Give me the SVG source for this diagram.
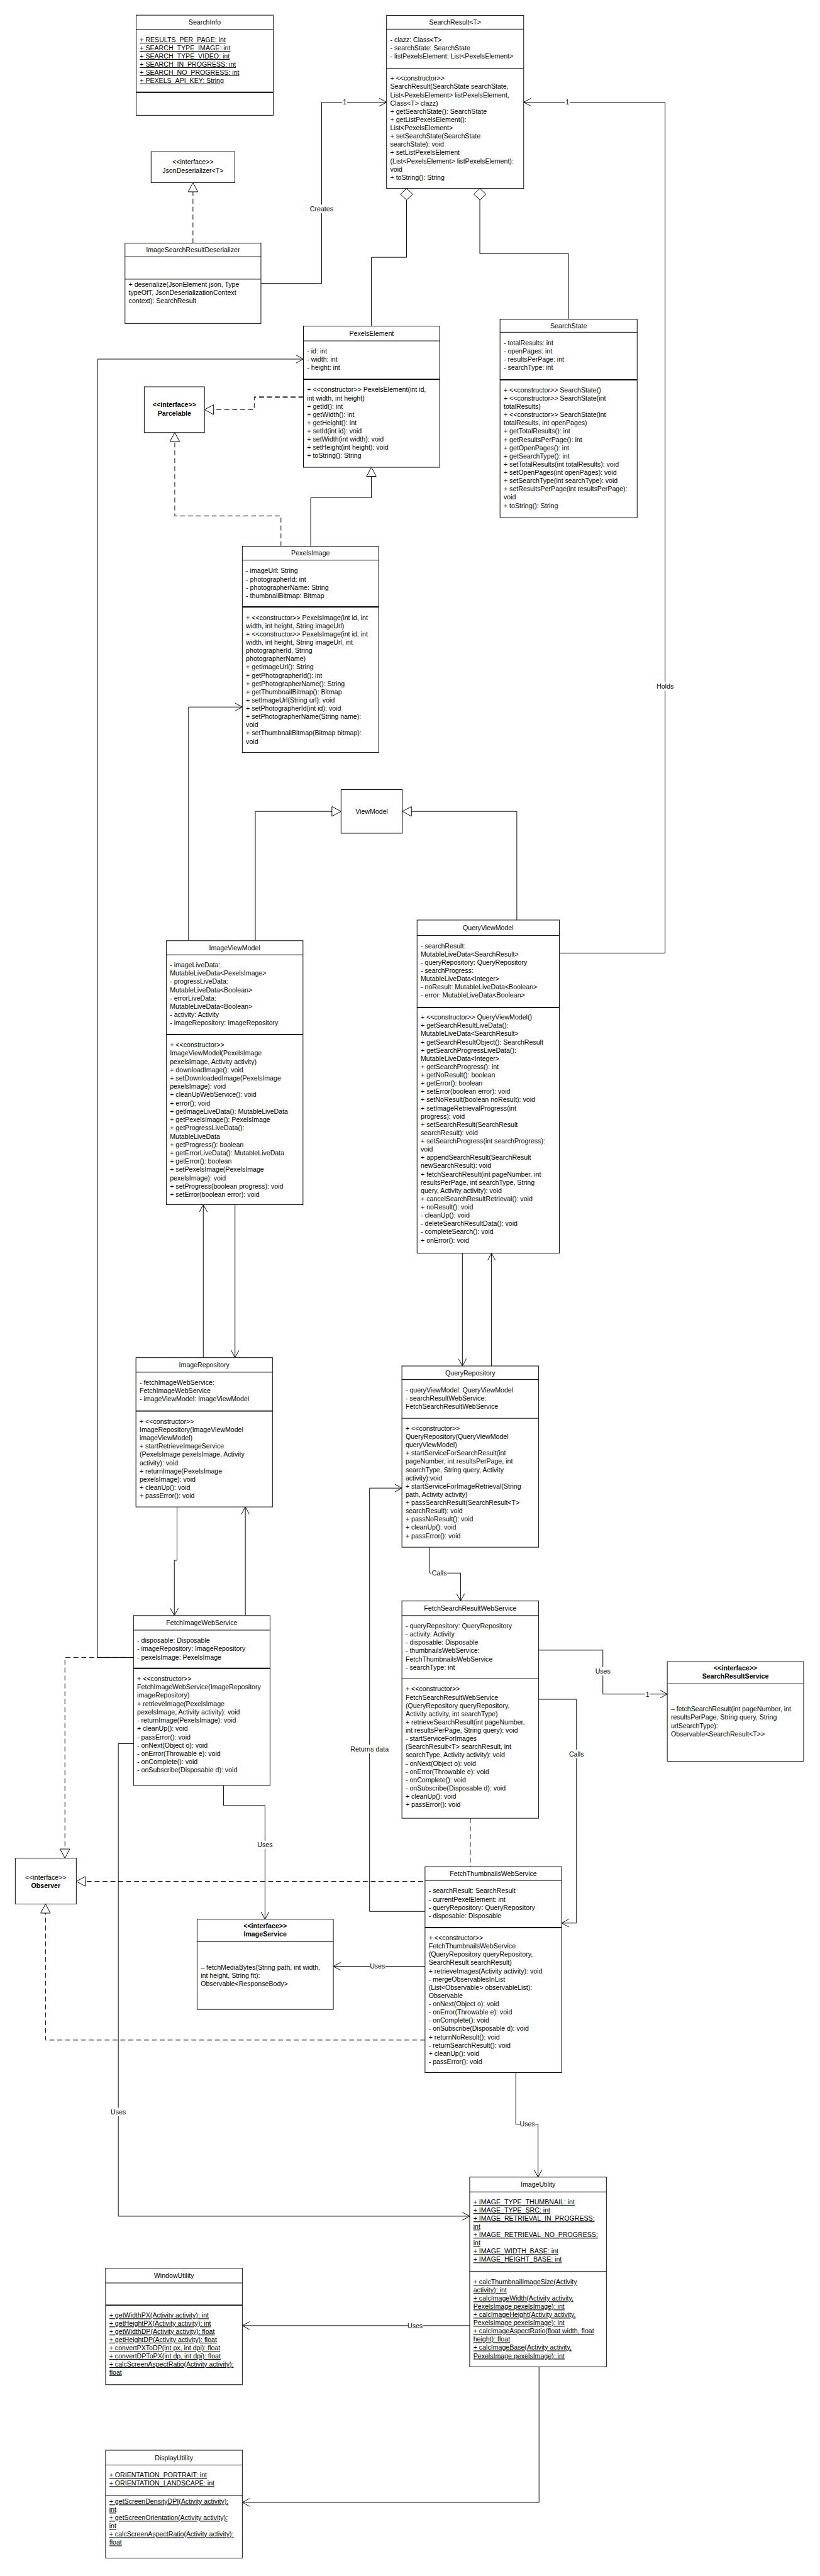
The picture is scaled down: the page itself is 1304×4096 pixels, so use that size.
<svg xmlns="http://www.w3.org/2000/svg" width="1304" height="4096" viewBox="0 0 1304 4096">
<style>
.b{fill:#fff;stroke:#000;stroke-width:1}
.d{stroke:#000;stroke-width:1}
.dk{stroke:#000;stroke-width:2}
.t{font-family:"Liberation Sans",Arial,Helvetica,sans-serif;font-size:11px;fill:#000}
.c{text-anchor:middle}
.u{text-decoration:underline}
.bo{font-weight:bold}
.e{fill:none;stroke:#000;stroke-width:1}
.dash{stroke-dasharray:8 5}
.lb{fill:#fff}
</style>
<defs>
<marker id="arr" markerUnits="userSpaceOnUse" markerWidth="14" markerHeight="16" refX="12" refY="7" orient="auto"><path d="M0,0.5 L12,7 L0,13.5" fill="none" stroke="#000" stroke-width="1" stroke-dasharray="none"/></marker>
<marker id="tri" markerUnits="userSpaceOnUse" markerWidth="18" markerHeight="18" refX="16" refY="9" orient="auto"><path d="M1,1 L16,9 L1,17 Z" fill="#fff" stroke="#000" stroke-width="1" stroke-dasharray="none"/></marker>
</defs>
<rect width="1304" height="4096" fill="#fff"/>
<g transform="scale(0.965)">
<g id="connectors">
<path class="e dash" d="M318,400.7 L318,301" marker-end="url(#tri)"/>
<path class="e" d="M430,467 L530,467 L530,168.4 L637,168.4" marker-end="url(#arr)"/>
<path class="e" d="M921.7,1570.4 L1096,1570.4 L1096,168.4 L863,168.4" marker-end="url(#arr)"/>
<path class="e" d="M670,329.5 L670,424 L612,424 L612,537.3"/>
<polygon class="b" points="670,310.5 680,320 670,329.5 660,320"/>
<path class="e" d="M790.7,329.5 L790.7,418 L937,418 L937,526"/>
<polygon class="b" points="790.7,310.5 800.7,320 790.7,329.5 780.7,320"/>
<path class="e dash" d="M500,654.3 L419,654.3 L419,675 L337,675" marker-end="url(#tri)"/>
<path class="e dash" style="stroke-width:2" d="M500,654.3 L419,654.3"/>
<path class="e" d="M512,900 L512,820 L612,820 L612,770" marker-end="url(#tri)"/>
<path class="e dash" d="M463,900 L463,850 L288,850 L288,712.7" marker-end="url(#tri)"/>
<path class="e" d="M420.7,1550 L420.7,1337 L562,1337" marker-end="url(#tri)"/>
<path class="e" d="M851.7,1516 L851.7,1337 L663,1337" marker-end="url(#tri)"/>
<path class="e" d="M310.7,1550 L310.7,1165 L399.3,1165" marker-end="url(#arr)"/>
<path class="e" d="M387.3,1985 L387.3,2237" marker-end="url(#arr)"/>
<path class="e" d="M335,2237 L335,1985" marker-end="url(#arr)"/>
<path class="e" d="M762,2065 L762,2250.8" marker-end="url(#arr)"/>
<path class="e" d="M810,2250.8 L810,2065" marker-end="url(#arr)"/>
<path class="e" d="M291.7,2483 L291.7,2571 L287.3,2571 L287.3,2662" marker-end="url(#arr)"/>
<path class="e" d="M404.3,2662 L404.3,2483" marker-end="url(#arr)"/>
<path class="e" d="M708.3,2549.4 L708.3,2592 L759,2592 L759,2638" marker-end="url(#arr)"/>
<path class="e" d="M887.7,2719 L993.5,2719 L993.5,2791.4 L1099.6,2791.4" marker-end="url(#arr)"/>
<path class="e" d="M887.7,2800 L950,2800 L950,3168.7 L925.5,3168.7" marker-end="url(#arr)"/>
<path class="e dash" d="M775,2996 L775,3100 L125.7,3100" marker-end="url(#tri)"/>
<path class="e dash" d="M700.4,3361.5 L75,3361.5 L75,3137.3" marker-end="url(#tri)"/>
<path class="e" d="M700.4,3149.5 L609,3149.5 L609,2452 L662.3,2452" marker-end="url(#arr)"/>
<path class="e" d="M700.4,3240 L549.3,3240" marker-end="url(#arr)"/>
<path class="e" d="M368.3,2942 L368.3,2975 L436.7,2975 L436.7,3162.3" marker-end="url(#arr)"/>
<path class="e dash" d="M220,2731 L107,2731 L107,3061.7" marker-end="url(#tri)"/>
<path class="e" d="M220,2731 L161,2731 L161,591.7 L500,591.7" marker-end="url(#arr)"/>
<path class="e" d="M220,2873 L195,2873 L195,3651.7 L774,3651.7" marker-end="url(#arr)"/>
<path class="e" d="M850,3415 L850,3500 L886.7,3500 L886.7,3587.3" marker-end="url(#arr)"/>
<path class="e" d="M774,3832 L399.3,3832" marker-end="url(#arr)"/>
<path class="e" d="M888.3,3900 L888.3,4123.3 L399.3,4123.3" marker-end="url(#arr)"/>
<g id="edge-labels">
<rect class="lb" x="511" y="337" width="38" height="14"/><text class="t c" x="530" y="348">Creates</text>
<rect class="lb" x="564" y="161" width="8" height="14"/><text class="t c" x="568" y="172.4">1</text>
<rect class="lb" x="1081" y="1124" width="30" height="14"/><text class="t c" x="1096" y="1135">Holds</text>
<rect class="lb" x="931" y="161" width="8" height="14"/><text class="t c" x="935" y="172.4">1</text>
<rect class="lb" x="711" y="2585" width="26" height="14"/><text class="t c" x="724" y="2596">Calls</text>
<rect class="lb" x="981" y="2747" width="25" height="14"/><text class="t c" x="993.5" y="2758">Uses</text>
<rect class="lb" x="1063" y="2784" width="8" height="14"/><text class="t c" x="1067" y="2795.4">1</text>
<rect class="lb" x="937" y="2883" width="26" height="14"/><text class="t c" x="950" y="2894">Calls</text>
<rect class="lb" x="577" y="2875" width="64" height="14"/><text class="t c" x="609" y="2886">Returns data</text>
<rect class="lb" x="610" y="3233" width="25" height="14"/><text class="t c" x="622" y="3244">Uses</text>
<rect class="lb" x="424" y="3033" width="25" height="14"/><text class="t c" x="436.7" y="3044">Uses</text>
<rect class="lb" x="183" y="3473" width="25" height="14"/><text class="t c" x="195" y="3484">Uses</text>
<rect class="lb" x="857" y="3493" width="25" height="14"/><text class="t c" x="869" y="3504">Uses</text>
<rect class="lb" x="672" y="3825" width="25" height="14"/><text class="t c" x="684" y="3836">Uses</text>
</g>
</g>

<g id="n-searchinfo">
<rect class="b" x="224.3" y="25" width="226" height="165"/>
<line class="d" x1="224.3" y1="48.5" x2="450.3" y2="48.5"/>
<line class="dk" x1="224.3" y1="152" x2="450.3" y2="152"/>
<text class="t c" x="337.3" y="40.8">SearchInfo</text>
<text class="t u" x="230.3" y="69.5"><tspan x="230.3">+ RESULTS_PER_PAGE: int</tspan><tspan x="230.3" dy="13.4">+ SEARCH_TYPE_IMAGE: int</tspan><tspan x="230.3" dy="13.4">+ SEARCH_TYPE_VIDEO: int</tspan><tspan x="230.3" dy="13.4">+ SEARCH_IN_PROGRESS: int</tspan><tspan x="230.3" dy="13.4">+ SEARCH_NO_PROGRESS: int</tspan><tspan x="230.3" dy="13.4">+ PEXELS_API_KEY: String</tspan></text>
</g>

<g id="n-searchresult">
<rect class="b" x="637" y="25.5" width="226" height="285"/>
<line class="d" x1="637" y1="48" x2="863" y2="48"/>
<line class="d" x1="637" y1="112.4" x2="863" y2="112.4"/>
<text class="t c" x="750" y="40.8">SearchResult&lt;T&gt;</text>
<text class="t" x="643" y="69"><tspan x="643">- clazz: Class&lt;T&gt;</tspan><tspan x="643" dy="13.6">- searchState: SearchState</tspan><tspan x="643" dy="13.6">- listPexelsElement: List&lt;PexelsElement&gt;</tspan></text>
<text class="t" x="643" y="133"><tspan x="643">+ &lt;&lt;constructor&gt;&gt;</tspan><tspan x="643" dy="13.6">SearchResult(SearchState searchState,</tspan><tspan x="643" dy="13.6">List&lt;PexelsElement&gt; listPexelsElement,</tspan><tspan x="643" dy="13.6">Class&lt;T&gt; clazz)</tspan><tspan x="643" dy="13.6">+ getSearchState(): SearchState</tspan><tspan x="643" dy="13.6">+ getListPexelsElement():</tspan><tspan x="643" dy="13.6">List&lt;PexelsElement&gt;</tspan><tspan x="643" dy="13.6">+ setSearchState(SearchState</tspan><tspan x="643" dy="13.6">searchState): void</tspan><tspan x="643" dy="13.6">+ setListPexelsElement</tspan><tspan x="643" dy="13.6">(List&lt;PexelsElement&gt; listPexelsElement):</tspan><tspan x="643" dy="13.6">void</tspan><tspan x="643" dy="13.6">+ toString(): String</tspan></text>
</g>

<g id="n-jsondeserializer">
<rect class="b" x="249" y="250" width="138" height="51"/>
<text class="t c" x="318" y="270"><tspan x="318">&lt;&lt;interface&gt;&gt;</tspan><tspan x="318" dy="15">JsonDeserializer&lt;T&gt;</tspan></text>
</g>

<g id="n-deserializer">
<rect class="b" x="206" y="400.7" width="224" height="132.3"/>
<line class="d" x1="206" y1="423" x2="430" y2="423"/>
<line class="d" x1="206" y1="460" x2="430" y2="460"/>
<text class="t c" x="318" y="415.9">ImageSearchResultDeserializer</text>
<text class="t" x="212" y="472.5"><tspan x="212">+ deserialize(JsonElement json, Type</tspan><tspan x="212" dy="13.4">typeOfT, JsonDeserializationContext</tspan><tspan x="212" dy="13.4">context): SearchResult</tspan></text>
</g>

<g id="n-searchstate">
<rect class="b" x="824" y="526" width="226" height="327"/>
<line class="d" x1="824" y1="547.5" x2="1050" y2="547.5"/>
<line class="dk" x1="824" y1="625.8" x2="1050" y2="625.8"/>
<text class="t c" x="937" y="540.8">SearchState</text>
<text class="t" x="830" y="568.5"><tspan x="830">- totalResults: int</tspan><tspan x="830" dy="13.6">- openPages: int</tspan><tspan x="830" dy="13.6">- resultsPerPage: int</tspan><tspan x="830" dy="13.6">- searchType: int</tspan></text>
<text class="t" x="830" y="646.5"><tspan x="830">+ &lt;&lt;constructor&gt;&gt; SearchState()</tspan><tspan x="830" dy="13.6">+ &lt;&lt;constructor&gt;&gt; SearchState(int</tspan><tspan x="830" dy="13.6">totalResults)</tspan><tspan x="830" dy="13.6">+ &lt;&lt;constructor&gt;&gt; SearchState(int</tspan><tspan x="830" dy="13.6">totalResults, int openPages)</tspan><tspan x="830" dy="13.6">+ getTotalResults(): int</tspan><tspan x="830" dy="13.6">+ getResultsPerPage(): int</tspan><tspan x="830" dy="13.6">+ getOpenPages(): int</tspan><tspan x="830" dy="13.6">+ getSearchType(): int</tspan><tspan x="830" dy="13.6">+ setTotalResults(int totalResults): void</tspan><tspan x="830" dy="13.6">+ setOpenPages(int openPages): void</tspan><tspan x="830" dy="13.6">+ setSearchType(int searchType): void</tspan><tspan x="830" dy="13.6">+ setResultsPerPage(int resultsPerPage):</tspan><tspan x="830" dy="13.6">void</tspan><tspan x="830" dy="13.6">+ toString(): String</tspan></text>
</g>

<g id="n-pexelselement">
<rect class="b" x="500" y="537.3" width="224.5" height="232.7"/>
<line class="d" x1="500" y1="561.7" x2="724.5" y2="561.7"/>
<line class="dk" x1="500" y1="625" x2="724.5" y2="625"/>
<text class="t c" x="612.3" y="553.5">PexelsElement</text>
<text class="t" x="506" y="582.5"><tspan x="506">- id: int</tspan><tspan x="506" dy="13.6">- width: int</tspan><tspan x="506" dy="13.6">- height: int</tspan></text>
<text class="t" x="506" y="646"><tspan x="506">+ &lt;&lt;constructor&gt;&gt; PexelsElement(int id,</tspan><tspan x="506" dy="13.6">int width, int height)</tspan><tspan x="506" dy="13.6">+ getId(): int</tspan><tspan x="506" dy="13.6">+ getWidth(): int</tspan><tspan x="506" dy="13.6">+ getHeight(): int</tspan><tspan x="506" dy="13.6">+ setId(int  id): void</tspan><tspan x="506" dy="13.6">+ setWidth(int width): void</tspan><tspan x="506" dy="13.6">+ setHeight(int height): void</tspan><tspan x="506" dy="13.6">+ toString(): String</tspan></text>
</g>

<g id="n-parcelable">
<rect class="b" x="237.7" y="637.3" width="99.3" height="75.4"/>
<text class="t c bo" x="287.4" y="670.5"><tspan x="287.4">&lt;&lt;interface&gt;&gt;</tspan><tspan x="287.4" dy="14.2">Parcelable</tspan></text>
</g>

<g id="n-pexelsimage">
<rect class="b" x="399.3" y="900" width="224.7" height="340"/>
<line class="d" x1="399.3" y1="923" x2="624" y2="923"/>
<line class="dk" x1="399.3" y1="1000" x2="624" y2="1000"/>
<text class="t c" x="511.7" y="915.5">PexelsImage</text>
<text class="t" x="405.3" y="944.5"><tspan x="405.3">- imageUrl: String</tspan><tspan x="405.3" dy="13.6">- photographerId: int</tspan><tspan x="405.3" dy="13.6">- photographerName: String</tspan><tspan x="405.3" dy="13.6">- thumbnailBitmap: Bitmap</tspan></text>
<text class="t" x="405.3" y="1021.5"><tspan x="405.3">+ &lt;&lt;constructor&gt;&gt; PexelsImage(int id, int</tspan><tspan x="405.3" dy="13.6">width, int height, String imageUrl)</tspan><tspan x="405.3" dy="13.6">+ &lt;&lt;constructor&gt;&gt; PexelsImage(int id, int</tspan><tspan x="405.3" dy="13.6">width, int height, String imageUrl, int</tspan><tspan x="405.3" dy="13.6">photographerId, String</tspan><tspan x="405.3" dy="13.6">photographerName)</tspan><tspan x="405.3" dy="13.6">+ getImageUrl(): String</tspan><tspan x="405.3" dy="13.6">+ getPhotographerId(): int</tspan><tspan x="405.3" dy="13.6">+ getPhotographerName(): String</tspan><tspan x="405.3" dy="13.6">+ getThumbnailBitmap(): Bitmap</tspan><tspan x="405.3" dy="13.6">+ setImageUrl(String url): void</tspan><tspan x="405.3" dy="13.6">+ setPhotographerId(int id): void</tspan><tspan x="405.3" dy="13.6">+ setPhotographerName(String name):</tspan><tspan x="405.3" dy="13.6">void</tspan><tspan x="405.3" dy="13.6">+ setThumbnailBitmap(Bitmap bitmap):</tspan><tspan x="405.3" dy="13.6">void</tspan></text>
</g>

<g id="n-viewmodel">
<rect class="b" x="562" y="1301" width="101" height="72"/>
<text class="t c" x="612.5" y="1340.5">ViewModel</text>
</g>

<g id="n-imageviewmodel">
<rect class="b" x="274" y="1550" width="225.3" height="435"/>
<line class="d" x1="274" y1="1573.3" x2="499.3" y2="1573.3"/>
<line class="dk" x1="274" y1="1704.7" x2="499.3" y2="1704.7"/>
<text class="t c" x="386.7" y="1565.7">ImageViewModel</text>
<text class="t" x="280" y="1594"><tspan x="280">- imageLiveData:</tspan><tspan x="280" dy="13.6">MutableLiveData&lt;PexelsImage&gt;</tspan><tspan x="280" dy="13.6">- progressLiveData:</tspan><tspan x="280" dy="13.6">MutableLiveData&lt;Boolean&gt;</tspan><tspan x="280" dy="13.6">- errorLiveData:</tspan><tspan x="280" dy="13.6">MutableLiveData&lt;Boolean&gt;</tspan><tspan x="280" dy="13.6">- activity: Activity</tspan><tspan x="280" dy="13.6">- imageRepository: ImageRepository</tspan></text>
<text class="t" x="280" y="1725.5"><tspan x="280">+ &lt;&lt;constructor&gt;&gt;</tspan><tspan x="280" dy="13.7">ImageViewModel(PexelsImage</tspan><tspan x="280" dy="13.7">pexelsImage, Activity activity)</tspan><tspan x="280" dy="13.7">+ downloadImage(): void</tspan><tspan x="280" dy="13.7">+ setDownloadedImage(PexelsImage</tspan><tspan x="280" dy="13.7">pexelsImage): void</tspan><tspan x="280" dy="13.7">+ cleanUpWebService(): void</tspan><tspan x="280" dy="13.7">+ error(): void</tspan><tspan x="280" dy="13.7">+ getImageLiveData(): MutableLiveData</tspan><tspan x="280" dy="13.7">+ getPexelsImage(): PexelsImage</tspan><tspan x="280" dy="13.7">+ getProgressLiveData():</tspan><tspan x="280" dy="13.7">MutableLiveData</tspan><tspan x="280" dy="13.7">+ getProgress(): boolean</tspan><tspan x="280" dy="13.7">+ getErrorLiveData(): MutableLiveData</tspan><tspan x="280" dy="13.7">+ getError(): boolean</tspan><tspan x="280" dy="13.7">+ setPexelsImage(PexelsImage</tspan><tspan x="280" dy="13.7">pexelsImage): void</tspan><tspan x="280" dy="13.7">+ setProgress(boolean progress): void</tspan><tspan x="280" dy="13.7">+ setError(boolean error): void</tspan></text>
</g>

<g id="n-queryviewmodel">
<rect class="b" x="687.3" y="1516" width="234.4" height="549"/>
<line class="d" x1="687.3" y1="1541.4" x2="921.7" y2="1541.4"/>
<line class="dk" x1="687.3" y1="1660" x2="921.7" y2="1660"/>
<text class="t c" x="804.5" y="1532.7">QueryViewModel</text>
<text class="t" x="693.3" y="1562.4"><tspan x="693.3">- searchResult:</tspan><tspan x="693.3" dy="13.6">MutableLiveData&lt;SearchResult&gt;</tspan><tspan x="693.3" dy="13.6">- queryRepository: QueryRepository</tspan><tspan x="693.3" dy="13.6">- searchProgress:</tspan><tspan x="693.3" dy="13.6">MutableLiveData&lt;Integer&gt;</tspan><tspan x="693.3" dy="13.6">- noResult: MutableLiveData&lt;Boolean&gt;</tspan><tspan x="693.3" dy="13.6">- error: MutableLiveData&lt;Boolean&gt;</tspan></text>
<text class="t" x="693.3" y="1680"><tspan x="693.3">+ &lt;&lt;constructor&gt;&gt; QueryViewModel()</tspan><tspan x="693.3" dy="13.6">+ getSearchResultLiveData():</tspan><tspan x="693.3" dy="13.6">MutableLiveData&lt;SearchResult&gt;</tspan><tspan x="693.3" dy="13.6">+ getSearchResultObject(): SearchResult</tspan><tspan x="693.3" dy="13.6">+ getSearchProgressLiveData():</tspan><tspan x="693.3" dy="13.6">MutableLiveData&lt;Integer&gt;</tspan><tspan x="693.3" dy="13.6">+ getSearchProgress(): int</tspan><tspan x="693.3" dy="13.6">+ getNoResult(): boolean</tspan><tspan x="693.3" dy="13.6">+ getError(): boolean</tspan><tspan x="693.3" dy="13.6">+ setError(boolean error): void</tspan><tspan x="693.3" dy="13.6">+ setNoResult(boolean noResult): void</tspan><tspan x="693.3" dy="13.6">+ setImageRetrievalProgress(int</tspan><tspan x="693.3" dy="13.6">progress): void</tspan><tspan x="693.3" dy="13.6">+ setSearchResult(SearchResult</tspan><tspan x="693.3" dy="13.6">searchResult): void</tspan><tspan x="693.3" dy="13.6">+ setSearchProgress(int searchProgress):</tspan><tspan x="693.3" dy="13.6">void</tspan><tspan x="693.3" dy="13.6">+ appendSearchResult(SearchResult</tspan><tspan x="693.3" dy="13.6">newSearchResult): void</tspan><tspan x="693.3" dy="13.6">+ fetchSearchResult(int pageNumber, int</tspan><tspan x="693.3" dy="13.6">resultsPerPage, int searchType, String</tspan><tspan x="693.3" dy="13.6">query, Activity activity): void</tspan><tspan x="693.3" dy="13.6">+ cancelSearchResultRetrieval(): void</tspan><tspan x="693.3" dy="13.6">+ noResult(): void</tspan><tspan x="693.3" dy="13.6">- cleanUp(): void</tspan><tspan x="693.3" dy="13.6">- deleteSearchResultData(): void</tspan><tspan x="693.3" dy="13.6">- completeSearch(): void</tspan><tspan x="693.3" dy="13.6">+ onError(): void</tspan></text>
</g>

<g id="n-imagerepository">
<rect class="b" x="224" y="2237" width="225" height="246"/>
<line class="d" x1="224" y1="2261" x2="449" y2="2261"/>
<line class="dk" x1="224" y1="2325" x2="449" y2="2325"/>
<text class="t c" x="336.5" y="2253">ImageRepository</text>
<text class="t" x="230" y="2282"><tspan x="230">- fetchImageWebService:</tspan><tspan x="230" dy="13.6">FetchImageWebService</tspan><tspan x="230" dy="13.6">- imageViewModel: ImageViewModel</tspan></text>
<text class="t" x="230" y="2346"><tspan x="230">+ &lt;&lt;constructor&gt;&gt;</tspan><tspan x="230" dy="13.6">ImageRepository(ImageViewModel</tspan><tspan x="230" dy="13.6">imageViewModel)</tspan><tspan x="230" dy="13.6">+ startRetrieveImageService</tspan><tspan x="230" dy="13.6">(PexelsImage pexelsImage, Activity</tspan><tspan x="230" dy="13.6">activity): void</tspan><tspan x="230" dy="13.6">+ returnImage(PexelsImage</tspan><tspan x="230" dy="13.6">pexelsImage): void</tspan><tspan x="230" dy="13.6">+ cleanUp(): void</tspan><tspan x="230" dy="13.6">+ passError(): void</tspan></text>
</g>

<g id="n-queryrepository">
<rect class="b" x="662.3" y="2250.8" width="225.4" height="298.6"/>
<line class="d" x1="662.3" y1="2273" x2="887.7" y2="2273"/>
<line class="d" x1="662.3" y1="2337" x2="887.7" y2="2337"/>
<text class="t c" x="775" y="2266">QueryRepository</text>
<text class="t" x="668.3" y="2294"><tspan x="668.3">- queryViewModel: QueryViewModel</tspan><tspan x="668.3" dy="13.6">- searchResultWebService:</tspan><tspan x="668.3" dy="13.6">FetchSearchResultWebService</tspan></text>
<text class="t" x="668.3" y="2357.5"><tspan x="668.3">+ &lt;&lt;constructor&gt;&gt;</tspan><tspan x="668.3" dy="13.6">QueryRepository(QueryViewModel</tspan><tspan x="668.3" dy="13.6">queryViewModel)</tspan><tspan x="668.3" dy="13.6">+ startServiceForSearchResult(int</tspan><tspan x="668.3" dy="13.6">pageNumber, int resultsPerPage, int</tspan><tspan x="668.3" dy="13.6">searchType, String query, Activity</tspan><tspan x="668.3" dy="13.6">activity):void</tspan><tspan x="668.3" dy="13.6">+ startServiceForImageRetrieval(String</tspan><tspan x="668.3" dy="13.6">path, Activity activity)</tspan><tspan x="668.3" dy="13.6">+ passSearchResult(SearchResult&lt;T&gt;</tspan><tspan x="668.3" dy="13.6">searchResult): void</tspan><tspan x="668.3" dy="13.6">+ passNoResult(): void</tspan><tspan x="668.3" dy="13.6">+ cleanUp(): void</tspan><tspan x="668.3" dy="13.6">+ passError(): void</tspan></text>
</g>

<g id="n-fetchsearchresultwebservice">
<rect class="b" x="662.3" y="2638" width="225.4" height="358"/>
<line class="d" x1="662.3" y1="2662" x2="887.7" y2="2662"/>
<line class="d" x1="662.3" y1="2766" x2="887.7" y2="2766"/>
<text class="t c" x="775" y="2654">FetchSearchResultWebService</text>
<text class="t" x="668.3" y="2683"><tspan x="668.3">- queryRepository: QueryRepository</tspan><tspan x="668.3" dy="13.6">- activity: Activity</tspan><tspan x="668.3" dy="13.6">- disposable: Disposable</tspan><tspan x="668.3" dy="13.6">- thumbnailsWebService:</tspan><tspan x="668.3" dy="13.6">FetchThumbnailsWebService</tspan><tspan x="668.3" dy="13.6">- searchType: int</tspan></text>
<text class="t" x="668.3" y="2787"><tspan x="668.3">+ &lt;&lt;constructor&gt;&gt;</tspan><tspan x="668.3" dy="13.6">FetchSearchResultWebService</tspan><tspan x="668.3" dy="13.6">(QueryRepository queryRepository,</tspan><tspan x="668.3" dy="13.6">Activity activity, int searchType)</tspan><tspan x="668.3" dy="13.6">+ retrieveSearchResult(int pageNumber,</tspan><tspan x="668.3" dy="13.6">int resultsPerPage, String query): void</tspan><tspan x="668.3" dy="13.6">- startServiceForImages</tspan><tspan x="668.3" dy="13.6">(SearchResult&lt;T&gt; searchResult, int</tspan><tspan x="668.3" dy="13.6">searchType, Activity activity): void</tspan><tspan x="668.3" dy="13.6">- onNext(Object o): void</tspan><tspan x="668.3" dy="13.6">- onError(Throwable e): void</tspan><tspan x="668.3" dy="13.6">- onComplete(): void</tspan><tspan x="668.3" dy="13.6">- onSubscribe(Disposable d): void</tspan><tspan x="668.3" dy="13.6">+ cleanUp(): void</tspan><tspan x="668.3" dy="13.6">+ passError(): void</tspan></text>
</g>

<g id="n-fetchimagewebservice">
<rect class="b" x="220" y="2662" width="225" height="280"/>
<line class="d" x1="220" y1="2686" x2="445" y2="2686"/>
<line class="dk" x1="220" y1="2749" x2="445" y2="2749"/>
<text class="t c" x="332.5" y="2678">FetchImageWebService</text>
<text class="t" x="226" y="2707"><tspan x="226">- disposable: Disposable</tspan><tspan x="226" dy="13.6">- imageRepository: ImageRepository</tspan><tspan x="226" dy="13.6">- pexelsImage: PexelsImage</tspan></text>
<text class="t" x="226" y="2770"><tspan x="226">+ &lt;&lt;constructor&gt;&gt;</tspan><tspan x="226" dy="13.7">FetchImageWebService(ImageRepository</tspan><tspan x="226" dy="13.7">imageRepository)</tspan><tspan x="226" dy="13.7">+ retrieveImage(PexelsImage</tspan><tspan x="226" dy="13.7">pexelsImage, Activity activity): void</tspan><tspan x="226" dy="13.7">- returnImage(PexelsImage): void</tspan><tspan x="226" dy="13.7">+ cleanUp(): void</tspan><tspan x="226" dy="13.7">- passError(): void</tspan><tspan x="226" dy="13.7">- onNext(Object o): void</tspan><tspan x="226" dy="13.7">- onError(Throwable e): void</tspan><tspan x="226" dy="13.7">- onComplete(): void</tspan><tspan x="226" dy="13.7">- onSubscribe(Disposable d): void</tspan></text>
</g>

<g id="n-searchresultservice">
<rect class="b" x="1099.6" y="2738" width="224.7" height="164"/>
<line class="d" x1="1099.6" y1="2774.5" x2="1324.3" y2="2774.5"/>
<text class="t c bo" x="1212" y="2752"><tspan x="1212">&lt;&lt;interface&gt;&gt;</tspan><tspan x="1212" dy="14">SearchResultService</tspan></text>
<text class="t" x="1105.6" y="2820"><tspan x="1105.6">– fetchSearchResult(int pageNumber, int</tspan><tspan x="1105.6" dy="13.6">resultsPerPage, String query, String</tspan><tspan x="1105.6" dy="13.6">urlSearchType):</tspan><tspan x="1105.6" dy="13.6">Observable&lt;SearchResult&lt;T&gt;&gt;</tspan></text>
</g>

<g id="n-observer">
<rect class="b" x="25.2" y="3061.7" width="100.5" height="75.6"/>
<text class="t c" x="75.5" y="3097">&lt;&lt;interface&gt;&gt;</text>
<text class="t c bo" x="75.5" y="3111">Observer</text>
</g>

<g id="n-fetchthumbnailswebservice">
<rect class="b" x="700.4" y="3075.8" width="225.1" height="339.2"/>
<line class="d" x1="700.4" y1="3098.6" x2="925.5" y2="3098.6"/>
<line class="dk" x1="700.4" y1="3176" x2="925.5" y2="3176"/>
<text class="t c" x="813" y="3091.2">FetchThumbnailsWebService</text>
<text class="t" x="706.4" y="3119.6"><tspan x="706.4">- searchResult: SearchResult</tspan><tspan x="706.4" dy="13.6">- currentPexelElement: int</tspan><tspan x="706.4" dy="13.6">- queryRepository: QueryRepository</tspan><tspan x="706.4" dy="13.6">- disposable: Disposable</tspan></text>
<text class="t" x="706.4" y="3197"><tspan x="706.4">+ &lt;&lt;constructor&gt;&gt;</tspan><tspan x="706.4" dy="13.6">FetchThumbnailsWebService</tspan><tspan x="706.4" dy="13.6">(QueryRepository queryRepository,</tspan><tspan x="706.4" dy="13.6">SearchResult searchResult)</tspan><tspan x="706.4" dy="13.6">+ retrieveImages(Activity activity): void</tspan><tspan x="706.4" dy="13.6">- mergeObservablesInList</tspan><tspan x="706.4" dy="13.6">(List&lt;Observable&gt; observableList):</tspan><tspan x="706.4" dy="13.6">Observable</tspan><tspan x="706.4" dy="13.6">- onNext(Object o): void</tspan><tspan x="706.4" dy="13.6">- onError(Throwable e): void</tspan><tspan x="706.4" dy="13.6">- onComplete(): void</tspan><tspan x="706.4" dy="13.6">- onSubscribe(Disposable d): void</tspan><tspan x="706.4" dy="13.6">+ returnNoResult(): void</tspan><tspan x="706.4" dy="13.6">- returnSearchResult(): void</tspan><tspan x="706.4" dy="13.6">+ cleanUp(): void</tspan><tspan x="706.4" dy="13.6">- passError(): void</tspan></text>
</g>

<g id="n-imageservice">
<rect class="b" x="324.8" y="3162.3" width="224.5" height="148.7"/>
<line class="d" x1="324.8" y1="3199.3" x2="549.3" y2="3199.3"/>
<text class="t c bo" x="437" y="3177"><tspan x="437">&lt;&lt;interface&gt;&gt;</tspan><tspan x="437" dy="14">ImageService</tspan></text>
<text class="t" x="330.8" y="3245.4"><tspan x="330.8">– fetchMediaBytes(String path, int width,</tspan><tspan x="330.8" dy="13.6">int height, String fit):</tspan><tspan x="330.8" dy="13.6">Observable&lt;ResponseBody&gt;</tspan></text>
</g>

<g id="n-imageutility">
<rect class="b" x="774" y="3587.3" width="225.3" height="312.7"/>
<line class="d" x1="774" y1="3611.7" x2="999.3" y2="3611.7"/>
<line class="d" x1="774" y1="3742.7" x2="999.3" y2="3742.7"/>
<text class="t c" x="886.7" y="3603.5">ImageUtility</text>
<text class="t u" x="780" y="3632.3"><tspan x="780">+ IMAGE_TYPE_THUMBNAIL: int</tspan><tspan x="780" dy="13.5">+ IMAGE_TYPE_SRC: int</tspan><tspan x="780" dy="13.5">+ IMAGE_RETRIEVAL_IN_PROGRESS:</tspan><tspan x="780" dy="13.5">int</tspan><tspan x="780" dy="13.5">+ IMAGE_RETRIEVAL_NO_PROGRESS:</tspan><tspan x="780" dy="13.5">int</tspan><tspan x="780" dy="13.5">+ IMAGE_WIDTH_BASE: int</tspan><tspan x="780" dy="13.5">+ IMAGE_HEIGHT_BASE: int</tspan></text>
<text class="t u" x="780" y="3764"><tspan x="780">+ calcThumbnailImageSize(Activity</tspan><tspan x="780" dy="13.5">activity): int</tspan><tspan x="780" dy="13.5">+ calcImageWidth(Activity activity,</tspan><tspan x="780" dy="13.5">PexelsImage pexelsImage): int</tspan><tspan x="780" dy="13.5">+ calcImageHeight(Activity activity,</tspan><tspan x="780" dy="13.5">PexelsImage pexelsImage): int</tspan><tspan x="780" dy="13.5">+ calcImageAspectRatio(float width, float</tspan><tspan x="780" dy="13.5">height): float</tspan><tspan x="780" dy="13.5">+ calcImageBase(Activity activity,</tspan><tspan x="780" dy="13.5">PexelsImage pexelsImage): int</tspan></text>
</g>

<g id="n-windowutility">
<rect class="b" x="174" y="3737.3" width="225.3" height="192"/>
<line class="d" x1="174" y1="3761.7" x2="399.3" y2="3761.7"/>
<line class="dk" x1="174" y1="3798.3" x2="399.3" y2="3798.3"/>
<text class="t c" x="286.7" y="3753.5">WindowUtility</text>
<text class="t u" x="180" y="3819"><tspan x="180">+ getWidthPX(Activity activity): int</tspan><tspan x="180" dy="13.4">+ getHeightPX(Activity activity): int</tspan><tspan x="180" dy="13.4">+ getWidthDP(Activity activity): float</tspan><tspan x="180" dy="13.4">+ getHeightDP(Activity activity): float</tspan><tspan x="180" dy="13.4">+ convertPXToDP(int px, int dpi): float</tspan><tspan x="180" dy="13.4">+ convertDPToPX(int dp, int dpi): float</tspan><tspan x="180" dy="13.4">+ calcScreenAspectRatio(Activity activity):</tspan><tspan x="180" dy="13.4">float</tspan></text>
</g>

<g id="n-displayutility">
<rect class="b" x="174" y="4037.3" width="225.3" height="177.7"/>
<line class="d" x1="174" y1="4061.7" x2="399.3" y2="4061.7"/>
<line class="d" x1="174" y1="4111.7" x2="399.3" y2="4111.7"/>
<text class="t c" x="286.7" y="4053.5">DisplayUtility</text>
<text class="t u" x="180" y="4082.3"><tspan x="180">+ ORIENTATION_PORTRAIT: int</tspan><tspan x="180" dy="13.4">+ ORIENTATION_LANDSCAPE: int</tspan></text>
<text class="t u" x="180" y="4125.7"><tspan x="180">+ getScreenDensityDPI(Activity activity):</tspan><tspan x="180" dy="13.5">int</tspan><tspan x="180" dy="13.5">+ getScreenOrientation(Activity activity):</tspan><tspan x="180" dy="13.5">int</tspan><tspan x="180" dy="13.5">+ calcScreenAspectRatio(Activity activity):</tspan><tspan x="180" dy="13.5">float</tspan></text>
</g>
</g>
</svg>
